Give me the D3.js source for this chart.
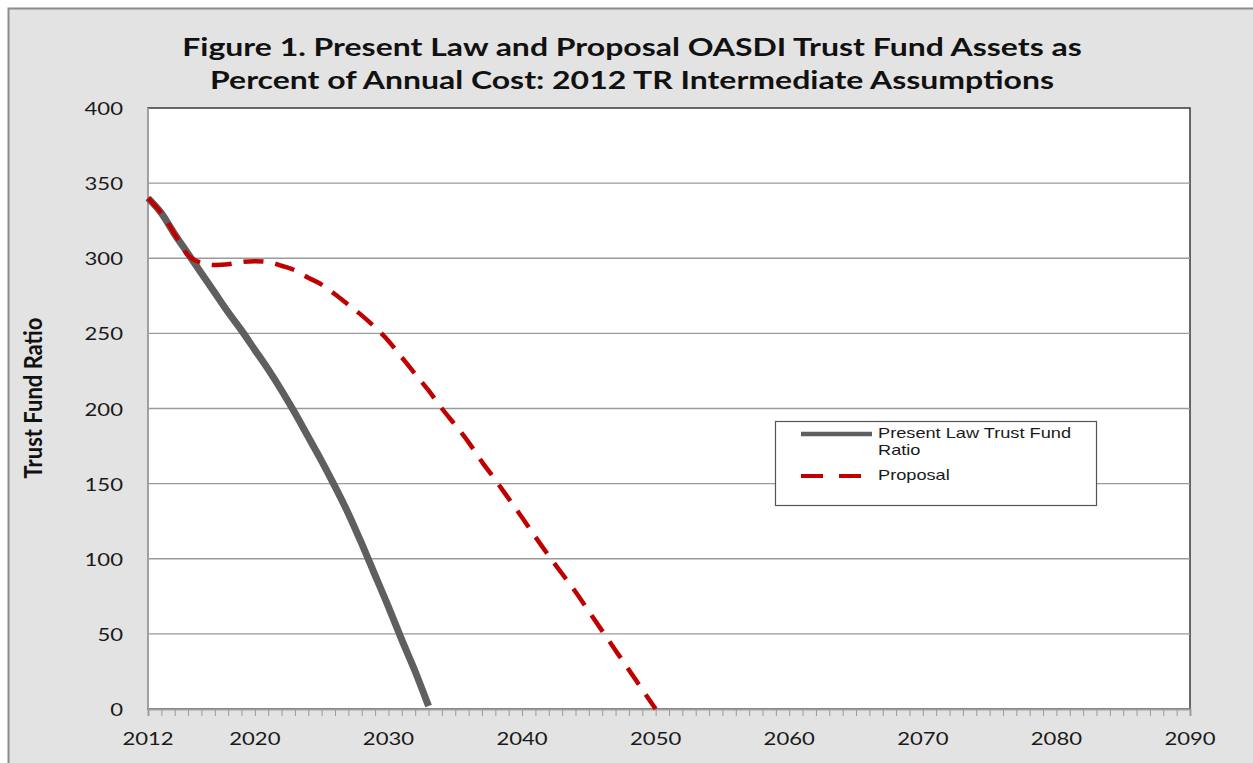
<!DOCTYPE html>
<html>
<head>
<meta charset="utf-8">
<script src="https://cdn.jsdelivr.net/npm/d3@7"></script>
<style>
  body { margin: 0; background: #fff; }
  svg { display: block; }
</style>
</head>
<body>
<div id="chart"></div>
<script>
// Trust fund ratio, one value per year starting in 2012
const startYear = 2012;
const presentLaw = [340, 330, 316, 303, 290, 277, 264, 252, 239, 226, 212, 197, 181, 165, 148, 130, 110, 89, 68, 46, 25, 2];
const proposal = [340, 330, 316, 302, 297, 295.5, 296, 297.5, 298, 297.5, 295, 292, 287, 282.5, 276, 269, 262, 254, 245,
  234, 223, 212, 200, 189, 177.5, 164.5, 152.5, 140, 127.5, 114.5, 102, 90, 78, 65, 52, 39, 26, 13, 0];
const xLabels = [2012, 2020, 2030, 2040, 2050, 2060, 2070, 2080, 2090];
const yTicks = [0, 50, 100, 150, 200, 250, 300, 350, 400];
const titleLines = [
  "Figure 1. Present Law and Proposal OASDI Trust Fund Assets as",
  "Percent of Annual Cost: 2012 TR Intermediate Assumptions"
];

const width = 1253;
const height = 763;
const margin = { top: 108, right: 63, bottom: 54, left: 148 };
const sx = 1.3; // the original picture is stretched sideways

const svg = d3.select("#chart")
  .append("svg")
  .attr("width", width)
  .attr("height", height);

// outer chart frame
svg.append("rect")
  .attr("x", 8.5)
  .attr("y", 8.5)
  .attr("width", width + 20)
  .attr("height", height + 20)
  .attr("fill", "#e3e3e3")
  .attr("stroke", "#8c8c8c")
  .attr("stroke-width", 2);

const x = d3.scaleLinear()
  .domain([2012, 2090])
  .range([margin.left, width - margin.right]);

const y = d3.scaleLinear()
  .domain([0, 400])
  .range([height - margin.bottom, margin.top]);

// plot area
svg.append("rect")
  .attr("x", x(2012))
  .attr("y", y(400))
  .attr("width", x(2090) - x(2012))
  .attr("height", y(0) - y(400))
  .attr("fill", "#fff")
  .attr("stroke", "#3a3a3a")
  .attr("stroke-width", 1.5);

// gridlines
svg.append("g")
  .selectAll("line")
  .data(yTicks.filter(d => d > 0 && d < 400))
  .enter()
  .append("line")
  .attr("x1", x(2012))
  .attr("x2", x(2090))
  .attr("y1", d => y(d))
  .attr("y2", d => y(d))
  .attr("stroke", "#9a9a9a")
  .attr("stroke-width", 1.3);

// helper for sideways-stretched text
function stretched(g, tx, ty, k) {
  return g.append("text")
    .attr("transform", `translate(${tx},${ty}) scale(${k || sx},1)`);
}

// y axis line + labels
svg.append("line")
  .attr("x1", x(2012))
  .attr("x2", x(2012))
  .attr("y1", y(0))
  .attr("y2", y(400))
  .attr("stroke", "#a0a0a0")
  .attr("stroke-width", 2);

const yLab = svg.append("g")
  .style("font-family", "Lato, 'Open Sans', sans-serif")
  .style("font-size", "17px")
  .attr("fill", "#1a1a1a")
  .attr("text-anchor", "end");
yTicks.forEach(d => {
  stretched(yLab, 123, y(d) + 7).text(d);
});

// x axis: a tick every year, labels at chosen years
const xAxis = d3.axisBottom(x)
  .tickValues(d3.range(2012, 2091))
  .tickSize(7)
  .tickFormat("");
const xg = svg.append("g")
  .attr("transform", `translate(0,${y(0)})`)
  .call(xAxis);
xg.select(".domain").attr("stroke", "#a0a0a0").attr("stroke-width", 2);
xg.selectAll(".tick line").attr("stroke", "#9a9a9a").attr("stroke-width", 1);

const xLab = svg.append("g")
  .style("font-family", "Lato, 'Open Sans', sans-serif")
  .style("font-size", "17px")
  .attr("fill", "#1a1a1a")
  .attr("text-anchor", "middle");
xLabels.forEach(d => {
  stretched(xLab, x(d), 745).text(d);
});

// series
const lineGen = d3.line()
  .x((d, i) => x(startYear + i))
  .y(d => y(d))
  .curve(d3.curveMonotoneX);

svg.append("path")
  .datum(presentLaw)
  .attr("fill", "none")
  .attr("stroke", "#5f5f5f")
  .attr("stroke-width", 7)
  .attr("d", lineGen);

svg.append("path")
  .datum(proposal)
  .attr("fill", "none")
  .attr("stroke", "#c00000")
  .attr("stroke-width", 4.5)
  .attr("stroke-dasharray", "20,12")
  .attr("d", lineGen);

// title
const title = svg.append("g")
  .style("font-family", "Lato, 'Open Sans', sans-serif")
  .style("font-size", "24.6px")
  .style("font-weight", "bold")
  .attr("fill", "#111")
  .attr("text-anchor", "middle");
titleLines.forEach((t, i) => {
  stretched(title, 632, 56 + i * 33).text(t);
});

// y axis title
svg.append("text")
  .attr("transform", `translate(42,398) scale(1.15,1) rotate(-90)`)
  .attr("text-anchor", "middle")
  .style("font-family", "Lato, 'Open Sans', sans-serif")
  .style("font-size", "22px")
  .style("font-weight", "bold")
  .attr("fill", "#111")
  .text("Trust Fund Ratio");

// legend
const legend = svg.append("g").attr("transform", "translate(775,421)");
legend.append("rect")
  .attr("x", 0.5)
  .attr("y", 0.5)
  .attr("width", 321)
  .attr("height", 84)
  .attr("fill", "#fff")
  .attr("stroke", "#555")
  .attr("stroke-width", 1.2);

legend.append("line")
  .attr("x1", 26).attr("x2", 97)
  .attr("y1", 13).attr("y2", 13)
  .attr("stroke", "#5f5f5f")
  .attr("stroke-width", 4.5);
legend.append("line")
  .attr("x1", 26).attr("x2", 86)
  .attr("y1", 55).attr("y2", 55)
  .attr("stroke", "#c00000")
  .attr("stroke-width", 4)
  .attr("stroke-dasharray", "22,16");

const legText = legend.append("g")
  .style("font-family", "'Liberation Sans', Arial, sans-serif")
  .style("font-size", "14px")
  .attr("fill", "#1a1a1a");
stretched(legText, 103, 17).text("Present Law Trust Fund");
stretched(legText, 103, 34).text("Ratio");
stretched(legText, 103, 59).text("Proposal");
</script>
</body>
</html>
